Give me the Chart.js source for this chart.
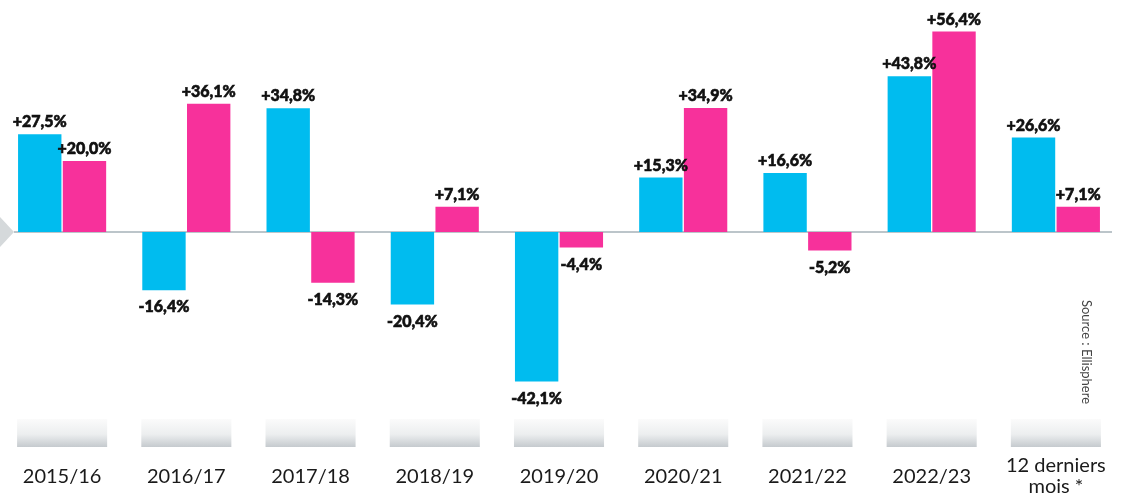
<!DOCTYPE html>
<html lang="fr">
<head>
    <meta charset="UTF-8">
    <title>Variations annuelles</title>
    <script src="https://cdn.jsdelivr.net/npm/chart.js"></script>
    <style>
        body { margin: 0; background: #fff; }
        .chart-container { width: 1125px; height: 500px; position: relative; }
    </style>
</head>
<body>
    <div class="chart-container">
        <canvas id="chart"></canvas>
    </div>

    <script>
        // Données
        const categories = ['2015/16', '2016/17', '2017/18', '2018/19', '2019/20', '2020/21', '2021/22', '2022/23', ['12 derniers', 'mois *']];
        const serieBleue = [27.5, -16.4, 34.8, -20.4, -42.1, 15.3, 16.6, 43.8, 26.6];
        const serieRose = [20.0, 36.1, -14.3, 7.1, -4.4, 34.9, -5.2, 56.4, 7.1];

        const BLEU = '#00bcef';
        const ROSE = '#f7319b';
        const FONT = "Lato, 'DejaVu Sans', sans-serif";

        const formatPct = v => (v > 0 ? '+' : '') + v.toFixed(1).replace('.', ',') + '%';

        // fond : cartouches grises, ligne du zéro, flèche
        const decorPlugin = {
            id: 'decor',
            beforeDatasetsDraw(chart) {
                const ctx = chart.ctx;
                const x = chart.scales.x;
                const y = chart.scales.y;
                const area = chart.chartArea;
                const slot = (area.right - area.left) / categories.length;
                const w = slot * 0.725;
                const top = area.bottom + 4;
                const h = 28;

                ctx.save();
                categories.forEach((c, i) => {
                    const cx = x.getPixelForValue(i);
                    const grad = ctx.createLinearGradient(0, top, 0, top + h);
                    grad.addColorStop(0, '#fbfbfb');
                    grad.addColorStop(0.55, '#eceeef');
                    grad.addColorStop(1, '#c5cace');
                    ctx.fillStyle = grad;
                    ctx.fillRect(cx - w / 2, top, w, h);
                });

                const y0 = y.getPixelForValue(0);
                ctx.fillStyle = '#d5d9db';
                ctx.beginPath();
                ctx.moveTo(0, y0 - 15);
                ctx.lineTo(14, y0);
                ctx.lineTo(0, y0 + 15);
                ctx.closePath();
                ctx.fill();

                ctx.strokeStyle = '#bcc5ca';
                ctx.lineWidth = 2;
                ctx.beginPath();
                ctx.moveTo(14, y0);
                ctx.lineTo(1112, y0);
                ctx.stroke();
                ctx.restore();
            },
            afterDatasetsDraw(chart) {
                const ctx = chart.ctx;
                ctx.save();
                ctx.font = "900 16px " + FONT;
                ctx.fillStyle = '#111';
                ctx.strokeStyle = '#111';
                ctx.lineWidth = 0.6;
                ctx.textAlign = 'center';
                chart.data.datasets.forEach((ds, di) => {
                    chart.getDatasetMeta(di).data.forEach((bar, i) => {
                        const v = ds.data[i];
                        const ty = v >= 0 ? bar.y - 4 : bar.y + 9;
                        ctx.textBaseline = v >= 0 ? 'bottom' : 'top';
                        ctx.fillText(formatPct(v), bar.x, ty);
                        ctx.strokeText(formatPct(v), bar.x, ty);
                    });
                });

                // source
                ctx.translate(1086, 352);
                ctx.rotate(Math.PI / 2);
                ctx.font = "13px " + FONT;
                ctx.fillStyle = '#444';
                ctx.textBaseline = 'middle';
                ctx.fillText('Source : Ellisphere', 0, 0);
                ctx.restore();
            }
        };

        new Chart(document.getElementById('chart'), {
            type: 'bar',
            data: {
                labels: categories,
                datasets: [{
                    label: 'Série 1',
                    data: serieBleue,
                    backgroundColor: BLEU,
                    borderWidth: 0,
                    categoryPercentage: 0.72,
                    barPercentage: 0.97
                }, {
                    label: 'Série 2',
                    data: serieRose,
                    backgroundColor: ROSE,
                    borderWidth: 0,
                    categoryPercentage: 0.72,
                    barPercentage: 0.97
                }]
            },
            options: {
                responsive: true,
                maintainAspectRatio: false,
                animation: false,
                layout: { padding: { top: 1, right: 7, left: 0, bottom: 0 } },
                plugins: {
                    legend: { display: false },
                    tooltip: { enabled: false }
                },
                scales: {
                    x: {
                        grid: { display: false },
                        border: { display: false },
                        afterFit(scale) {
                            scale.height = 85;
                            scale.paddingLeft = 0;
                            scale.paddingRight = 0;
                        },
                        ticks: {
                            padding: 43,
                            color: '#1a1a1a',
                            font: { family: FONT, size: 20, lineHeight: 1.05 },
                            crossAlign: 'center',
                            maxRotation: 0,
                            autoSkip: false
                        }
                    },
                    y: {
                        display: false,
                        min: -51.5,
                        max: 65
                    }
                }
            },
            plugins: [decorPlugin]
        });
    </script>
</body>
</html>
